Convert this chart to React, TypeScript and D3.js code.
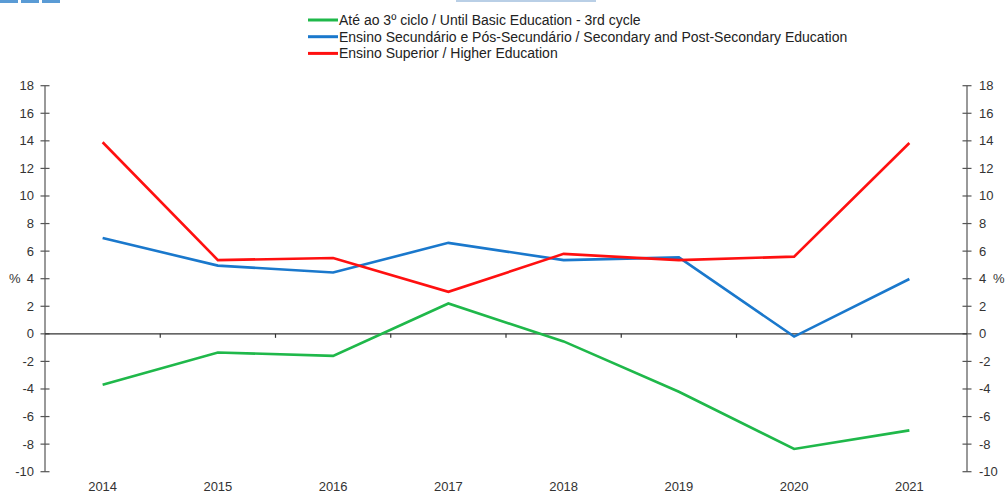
import React from "react";
import * as d3 from "d3";

const years = ["2014", "2015", "2016", "2017", "2018", "2019", "2020", "2021"];
const basic = [-3.7, -1.35, -1.6, 2.2, -0.55, -4.2, -8.35, -7.0];
const secondary = [6.95, 4.95, 4.45, 6.6, 5.35, 5.55, -0.2, 3.98];
const higher = [13.9, 5.35, 5.5, 3.05, 5.8, 5.35, 5.6, 13.84];
const yTicks = [18, 16, 14, 12, 10, 8, 6, 4, 2, 0, -2, -4, -6, -8, -10];
const seriesNames = [
  "Até ao 3º ciclo / Until Basic Education - 3rd cycle",
  "Ensino Secundário e Pós-Secundário / Secondary and Post-Secondary Education",
  "Ensino Superior / Higher Education",
];
const seriesColors = ["#1fb84a", "#1a78cc", "#ff1010"];
const seriesValues = [basic, secondary, higher];

const W = 1008;
const H = 493;
const left = 45;
const right = 967;
const top = 85.7;
const bottom = 471.7;
const font = "'Liberation Sans', Arial, sans-serif";

export default function App() {
  const x = d3.scaleBand<string>().domain(years).range([left, right]).paddingInner(0).paddingOuter(0);
  const y = d3.scaleLinear().domain([-10, 18]).range([bottom, top]);
  const line = d3
    .line<number>()
    .x((_, i) => (x(years[i]) as number) + x.bandwidth() / 2)
    .y((d) => y(d));
  const axisColor = "#555";
  const boundaries = years.slice(1).map((yr) => x(yr) as number);

  return (
    <svg
      width={W}
      height={H}
      style={{ position: "absolute", left: 0, top: 0, background: "#fff" }}
      fontFamily={font}
    >
      <rect x={0} y={0} width={W} height={H} fill="#fff" />
      {/* top cut-off fragments */}
      <rect x={0} y={0} width={18} height={3} fill="#5a9bd5" />
      <rect x={21} y={0} width={18} height={3} fill="#5a9bd5" />
      <rect x={42} y={0} width={18} height={3} fill="#5a9bd5" />
      <rect x={456} y={0} width={140} height={2} fill="#b9cfe6" />

      {/* legend */}
      {seriesNames.map((name, i) => (
        <g key={name} transform={`translate(308, ${20 + i * 16.7})`}>
          <line x1={0} x2={30} y1={0} y2={0} stroke={seriesColors[i]} strokeWidth={3} />
          <text x={31} y={5} fontSize={14} fill="#222">
            {name}
          </text>
        </g>
      ))}

      {/* left axis */}
      <line x1={left} x2={left} y1={top} y2={bottom} stroke={axisColor} strokeWidth={1.2} />
      {yTicks.map((t) => (
        <g key={"l" + t}>
          <line x1={left - 4.5} x2={left + 4.5} y1={y(t)} y2={y(t)} stroke={axisColor} strokeWidth={1.2} />
          <text x={34} y={y(t) + 4.5} fontSize={13} textAnchor="end" fill="#333">
            {t}
          </text>
        </g>
      ))}
      <text x={9} y={y(4) + 4.5} fontSize={13} fill="#333">%</text>

      {/* right axis */}
      <line x1={right} x2={right} y1={top} y2={bottom} stroke={axisColor} strokeWidth={1.2} />
      {yTicks.map((t) => (
        <g key={"r" + t}>
          <line x1={right - 4.5} x2={right + 4.5} y1={y(t)} y2={y(t)} stroke={axisColor} strokeWidth={1.2} />
          <text x={979} y={y(t) + 4.5} fontSize={13} fill="#333">
            {t}
          </text>
        </g>
      ))}
      <text x={993} y={y(4) + 4.5} fontSize={13} fill="#333">%</text>

      {/* zero line with category ticks */}
      <line x1={left} x2={right} y1={y(0)} y2={y(0)} stroke="#333" strokeWidth={1.3} />
      {boundaries.map((b) => (
        <line key={b} x1={b} x2={b} y1={y(0)} y2={y(0) + 4} stroke="#333" strokeWidth={1.2} />
      ))}

      {/* x labels */}
      {years.map((yr) => (
        <text
          key={yr}
          x={(x(yr) as number) + x.bandwidth() / 2}
          y={491}
          fontSize={13}
          textAnchor="middle"
          fill="#333"
        >
          {yr}
        </text>
      ))}

      {/* series */}
      {seriesValues.map((vals, i) => (
        <path key={i} d={line(vals) as string} fill="none" stroke={seriesColors[i]} strokeWidth={2.6} strokeLinejoin="miter" />
      ))}
    </svg>
  );
}
